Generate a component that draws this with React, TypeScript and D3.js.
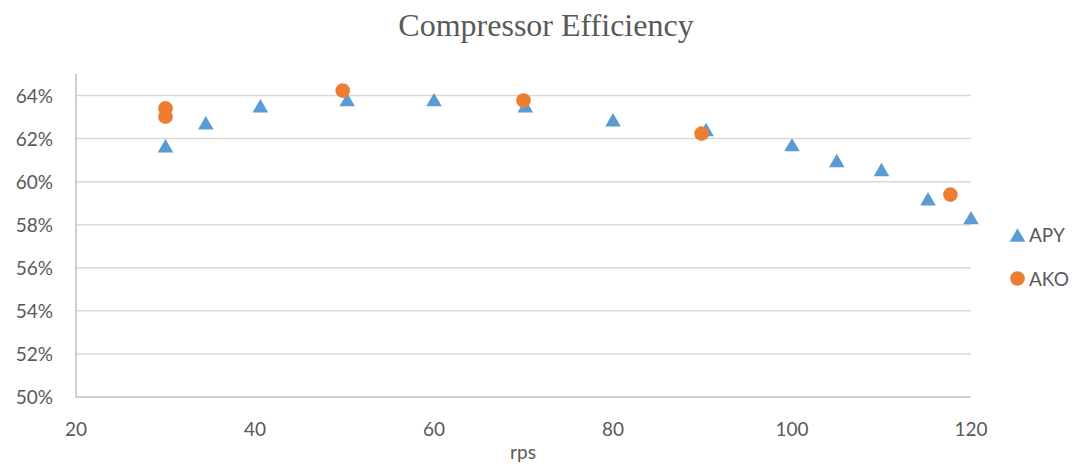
import React from "react";
import * as d3 from "d3";

const apyRps = [30, 34.5, 40.6, 50.3, 60, 70.2, 80, 90.4, 100, 105, 110, 115.2, 120];
const apyEff = [0.6167, 0.6274, 0.6353, 0.6381, 0.6381, 0.6353, 0.6288, 0.6242, 0.6172, 0.6098, 0.6056, 0.5921, 0.5833];
const akoRps = [30, 30, 49.8, 70, 89.9, 117.7];
const akoEff = [0.634, 0.6302, 0.6423, 0.6377, 0.6223, 0.594];
const yTicks = [0.5, 0.52, 0.54, 0.56, 0.58, 0.6, 0.62, 0.64];
const xTicks = [20, 40, 60, 80, 100, 120];
const seriesNames = ["APY", "AKO"];

const W = 1073, H = 464;
const left = 76, right = 971, top = 74, bottom = 397;
const font = "Lato, 'Open Sans', sans-serif";
const textColor = "#595959";
const blue = "#5B9BD5", orange = "#ED7D31";

export default function App() {
  const x = d3.scaleLinear().domain([20, 120]).range([left, right]);
  const y = d3.scaleLinear().domain([0.5, 0.65]).range([bottom, top]);
  const triSize = 105;
  const tri = d3.symbol().type(d3.symbolTriangle).size(triSize)() as string;
  const triOff = Math.sqrt(triSize / (Math.sqrt(3) * 3)) / 2; // center bounding box
  const circ = d3.symbol().type(d3.symbolCircle).size(170)() as string;
  const fmt = d3.format(".0%");
  return (
    <svg width={W} height={H} style={{ position: "absolute", left: 0, top: 0 }}>
      <rect width={W} height={H} fill="#fff" />
      <text x={546} y={36} textAnchor="middle" fontFamily="'Liberation Serif', 'Times New Roman', serif" fontSize={32} fill={textColor}>
        Compressor Efficiency
      </text>
      {yTicks.filter((t) => t > 0.5).map((t) => (
        <line key={t} x1={left} x2={right} y1={y(t)} y2={y(t)} stroke="#d9d9d9" strokeWidth={1.5} />
      ))}
      <line x1={left} x2={left} y1={top} y2={bottom} stroke="#bfbfbf" strokeWidth={1.5} />
      <line x1={left} x2={right} y1={bottom} y2={bottom} stroke="#bfbfbf" strokeWidth={1.5} />
      {yTicks.map((t) => (
        <text key={t} x={53} y={y(t) + 7} textAnchor="end" fontFamily={font} fontSize={19} fill={textColor}>
          {fmt(t)}
        </text>
      ))}
      {xTicks.map((t) => (
        <text key={t} x={x(t)} y={436} textAnchor="middle" fontFamily={font} fontSize={19} fill={textColor}>
          {t}
        </text>
      ))}
      <text x={523} y={459} textAnchor="middle" fontFamily={font} fontSize={19} fill={textColor}>rps</text>
      {apyRps.map((r, i) => (
        <path key={"a" + i} d={tri} transform={`translate(${x(r)},${y(apyEff[i]) + triOff})`} fill={blue} />
      ))}
      {akoRps.map((r, i) => (
        <path key={"o" + i} d={circ} transform={`translate(${x(r)},${y(akoEff[i])})`} fill={orange} />
      ))}
      <path d={tri} transform={`translate(1017.5,${235 + triOff})`} fill={blue} />
      <text x={1029} y={242} fontFamily={font} fontSize={19} fill={textColor}>{seriesNames[0]}</text>
      <path d={circ} transform="translate(1017.5,278.5)" fill={orange} />
      <text x={1029} y={285.5} fontFamily={font} fontSize={19} fill={textColor}>{seriesNames[1]}</text>
    </svg>
  );
}
